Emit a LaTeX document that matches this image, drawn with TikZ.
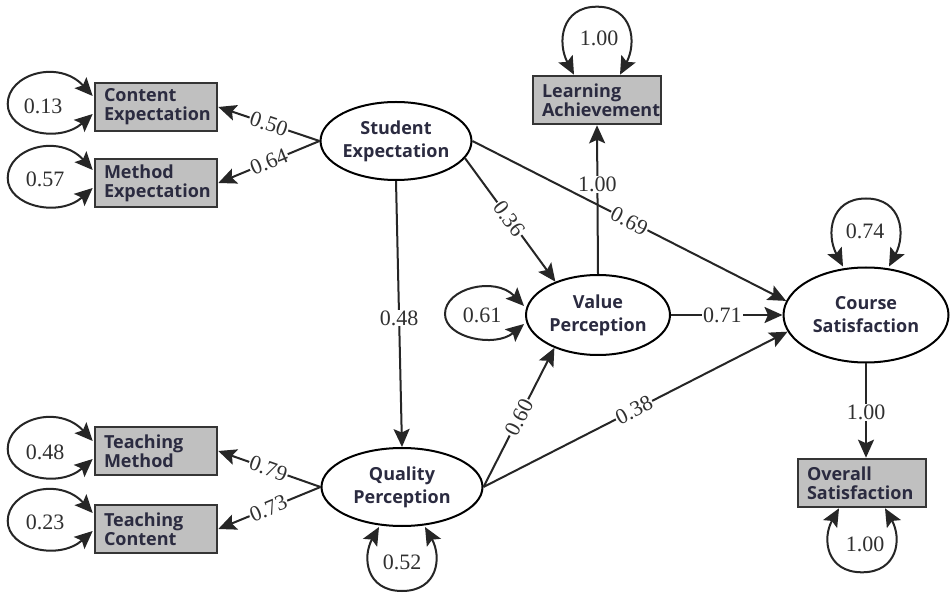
\documentclass[tikz,border=0pt]{standalone}
\usepackage{fontspec}
\setmainfont{Liberation Serif}
\newfontfamily\boxfont{Open Sans}
\usetikzlibrary{shapes.geometric,arrows.meta,calc}
\definecolor{boxgray}{HTML}{C0C0C0}
\definecolor{boxline}{HTML}{353535}
\definecolor{txt}{HTML}{2B2B40}
\definecolor{lc}{HTML}{262626}
\definecolor{labc}{HTML}{303030}
\newcommand\lloop[2]{%
  \draw[dbl] ($(#1.west)+(-1,#2-8)$) .. controls ($(#1.west)+(-35,#2-45)$) and ($(#1.west)+(-86,#2-30)$) .. ($(#1.west)+(-86,#2)$)
    .. controls ($(#1.west)+(-86,#2+28)$) and ($(#1.west)+(-35,#2+40)$) .. ($(#1.west)+(-1,#2+10)$);}
\newcommand\vloop[2]{%
  \draw[dbl] ($(#1.west)+(-1,#2-8)$) .. controls ($(#1.west)+(-30,#2-38)$) and ($(#1.west)+(-80,#2-26)$) .. ($(#1.west)+(-80,#2)$)
    .. controls ($(#1.west)+(-80,#2+24)$) and ($(#1.west)+(-30,#2+34)$) .. ($(#1.west)+(-1,#2+10)$);}
\newcommand\tloop[1]{%
  \draw[dbl] ($(#1.north)+(-23,0)$) .. controls ($(#1.north)+(-40,-32)$) and ($(#1.north)+(-36,-68)$) .. ($(#1.north)+(0,-68)$)
    .. controls ($(#1.north)+(36,-68)$) and ($(#1.north)+(40,-32)$) .. ($(#1.north)+(23,0)$);}
\newcommand\bloop[1]{%
  \draw[dbl] ($(#1.south)+(-23,0)$) .. controls ($(#1.south)+(-40,30)$) and ($(#1.south)+(-36,64)$) .. ($(#1.south)+(0,64)$)
    .. controls ($(#1.south)+(36,64)$) and ($(#1.south)+(40,30)$) .. ($(#1.south)+(23,0)$);}
\begin{document}
\begin{tikzpicture}[x=1pt,y=-1pt,
  >={Stealth[length=18pt,width=16pt,inset=3.5pt]},
  obs/.style={draw=boxline, fill=boxgray, line width=2.6pt, align=left, inner xsep=9pt,
    text width=104pt, minimum height=48pt, font=\boxfont\bfseries\fontsize{18}{19}\selectfont, text=txt},
  lat/.style={ellipse, draw=black, line width=2pt, fill=white, align=center, inner sep=0pt,
    font=\boxfont\bfseries\fontsize{18}{23}\selectfont, text=txt},
  arr/.style={->, line width=2pt, draw=lc, fill=lc},
  dbl/.style={<->, line width=2pt, draw=lc},
  lab/.style={fill=white, inner sep=1pt, text=labc, font=\fontsize{22}{22}\selectfont},
  loopl/.style={text=labc, inner sep=0pt, font=\fontsize{22}{22}\selectfont}
]
\useasboundingbox (0,0) rectangle (950,593);
\fill[white] (0,0) rectangle (950,593);

% observed boxes
\node[obs] (CE) at (156,107) {Content\\Expectation};
\node[obs] (ME) at (156,183) {Method\\Expectation};
\node[obs] (TM) at (156,451) {Teaching\\Method};
\node[obs] (TC) at (156,529) {Teaching\\Content};
\node[obs, text width=110pt] (LA) at (597,100) {Learning\\Achievement};
\node[obs, text width=110pt] (OS) at (862,483) {Overall\\Satisfaction};

% latent ellipses
\node[lat, minimum width=145pt, minimum height=78pt] (SE) at (396,141) {Student\\Expectation};
\node[lat, minimum width=144pt, minimum height=80pt] (VP) at (598,315) {Value\\Perception};
\node[lat, minimum width=165pt, minimum height=95pt] (CS) at (866,315) {Course\\Satisfaction};
\node[lat, minimum width=161pt, minimum height=78pt] (QP) at (402,487) {Quality\\Perception};

% paths
\draw[arr] (SE.west) -- node[lab, sloped, pos=0.5] {0.50} (CE.east);
\draw[arr] (SE.west) -- node[lab, sloped, pos=0.5] {0.64} (ME.east);
\draw[arr] (SE.-14) -- node[lab, sloped, pos=0.49] {0.36} (VP.142);
\draw[arr] (SE.east) -- node[lab, sloped, pos=0.5] {0.69} (CS.170);
\draw[arr] (SE.south) -- node[lab, pos=0.515] {0.48} (QP.north);
\draw[arr] (VP.north) -- node[lab, pos=0.6] {1.00} (LA.south);
\draw[arr] (VP.east) -- node[lab, pos=0.46] {0.71} (CS.west);
\draw[arr] (QP.east) -- node[lab, sloped, pos=0.5] {0.60} (VP.217);
\draw[arr] (QP.east) -- node[lab, sloped, pos=0.495] {0.38} (CS.192);
\draw[arr] (QP.west) -- node[lab, sloped, pos=0.51] {0.79} (TM.east);
\draw[arr] (QP.west) -- node[lab, sloped, pos=0.51] {0.73} (TC.east);
\draw[arr] (CS.south) -- node[lab, pos=0.52] {1.00} (CS.south |- OS.north);

% variances
\lloop{CE}{-3}
\lloop{ME}{-5}
\lloop{TM}{-2}
\lloop{TC}{-8}
\vloop{VP}{-1}
\tloop{LA}
\tloop{CS}
\bloop{QP}
\bloop{OS}

\node[loopl] (l1) at (43,106) {0.13};
\node[loopl] (l2) at (45,179) {0.57};
\node[loopl] (l3) at (45,452) {0.48};
\node[loopl] (l4) at (45,522) {0.23};
\node[loopl] (l5) at (482,315) {0.61};
\node[loopl] (l6) at (599,38) {1.00};
\node[loopl] (l7) at (865,231) {0.74};
\node[loopl] (l8) at (402,562) {0.52};
\node[loopl] (l9) at (865,544) {1.00};
\end{tikzpicture}
\end{document}
